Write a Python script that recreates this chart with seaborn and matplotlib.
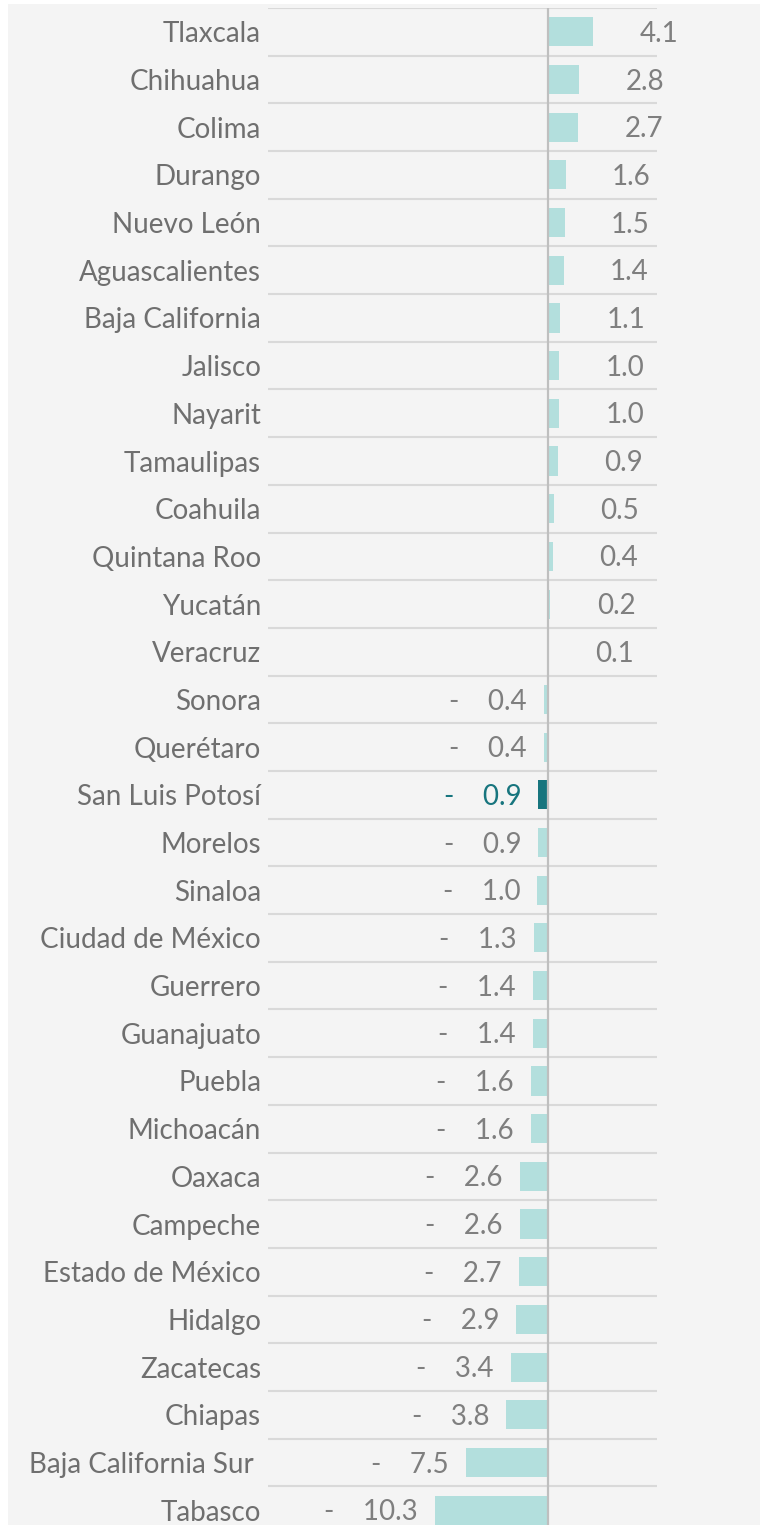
import numpy as np
import pandas as pd
import matplotlib
matplotlib.use("Agg")
import matplotlib.pyplot as plt
from matplotlib.patches import Rectangle
import seaborn as sns

states = ["Tlaxcala", "Chihuahua", "Colima", "Durango", "Nuevo León", "Aguascalientes",
          "Baja California", "Jalisco", "Nayarit", "Tamaulipas", "Coahuila", "Quintana Roo",
          "Yucatán", "Veracruz", "Sonora", "Querétaro", "San Luis Potosí", "Morelos",
          "Sinaloa", "Ciudad de México", "Guerrero", "Guanajuato", "Puebla", "Michoacán",
          "Oaxaca", "Campeche", "Estado de México", "Hidalgo", "Zacatecas", "Chiapas",
          "Baja California Sur", "Tabasco"]
values = [4.1, 2.8, 2.7, 1.6, 1.5, 1.4, 1.1, 1.0, 1.0, 0.9, 0.5, 0.4, 0.2, 0.1,
          -0.4, -0.4, -0.9, -0.9, -1.0, -1.3, -1.4, -1.4, -1.6, -1.6, -2.6, -2.6,
          -2.7, -2.9, -3.4, -3.8, -7.5, -10.3]
highlight_state = "San Luis Potosí"

LIGHT = "#b3dfdd"
DARK = "#17757e"
BG = "#f4f4f4"
GRID = "#d9d9d9"
TXT = "#6f6f6f"
VAL = "#7f7f7f"

sns.set_theme(style="white")
plt.rcParams["font.family"] = ["Lato", "DejaVu Sans"]

df = pd.DataFrame({"state": states, "value": values})
palette = {s: (DARK if s == highlight_state else LIGHT) for s in states}

W, H = 760, 1525
fig = plt.figure(figsize=(W / 100, H / 100), dpi=100, facecolor="white")
fig.patches.append(Rectangle((8 / W, 0), 1 - 8 / W, 1 - 4 / H, transform=fig.transFigure,
                             facecolor=BG, edgecolor="none", zorder=-10))

ax_left, ax_right = 268, 657
ax_top, ax_bot = 8, 1534
ax = fig.add_axes([ax_left / W, (H - ax_bot) / H, (ax_right - ax_left) / W, (ax_bot - ax_top) / H])
ax.set_facecolor("none")

sns.barplot(data=df, x="value", y="state", hue="state", palette=palette, legend=False,
            orient="h", width=0.61, ax=ax, saturation=1, linewidth=0, edgecolor="none", zorder=2)

n = len(states)
ax.set_xlim(-25.5, 9.9)
ax.set_ylim(n - 0.5, -0.5)
ax.set_xlabel("")
ax.set_ylabel("")
ax.set_xticks([])
ax.set_yticks(np.arange(n))
ax.set_yticklabels(["Baja California Sur " if s == "Baja California Sur" else s for s in states],
                   fontsize=20, color=TXT)
ax.tick_params(axis="y", which="major", length=0, pad=5)
ax.set_yticks(np.arange(-0.5, n, 1), minor=True)
ax.tick_params(axis="y", which="minor", length=0)
ax.grid(which="minor", axis="y", color=GRID, lw=1.5, zorder=0)
ax.grid(which="major", visible=False)
for sp in ax.spines.values():
    sp.set_visible(False)
ax.axvline(0, color="#bfbfbf", lw=1.6, zorder=3)

for i, (s, v) in enumerate(zip(states, values)):
    col = DARK if s == highlight_state else VAL
    if v >= 0:
        ax.annotate(f"{v:.1f}", xy=(v, i), xytext=(85 * 0.72, -1.5), textcoords="offset points",
                    ha="right", va="center", fontsize=20, color=col)
    else:
        ax.annotate(f"-    {abs(v):.1f}", xy=(v, i), xytext=(-17 * 0.72, -1.5), textcoords="offset points",
                    ha="right", va="center", fontsize=20, color=col)

fig.savefig("out.png", dpi=100, facecolor="white")
